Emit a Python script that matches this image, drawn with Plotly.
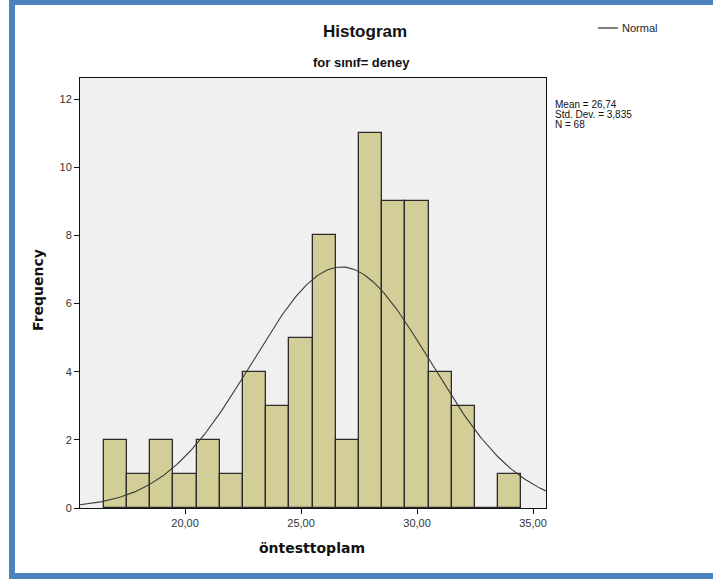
import numpy as np
import plotly.graph_objects as go

# ---- data ----
bin_centers = [17, 18, 19, 20, 21, 22, 23, 24, 25, 26, 27, 28, 29, 30, 31, 32, 33, 34]
counts = [2, 1, 2, 1, 2, 1, 4, 3, 5, 8, 2, 11, 9, 9, 4, 3, 0, 1]
bin_width = 1.0
mean_val = 26.74
sd_val = 3.835
n_val = 68
x_tickvals = [20, 25, 30, 35]
x_ticktext = ["20,00", "25,00", "30,00", "35,00"]
y_tickvals = [0, 2, 4, 6, 8, 10, 12]
stats_lines = ["Mean = 26,74", "Std. Dev. = 3,835", "N = 68"]

X_RANGE = [15.47, 35.56]
Y_RANGE = [0, 12.62]

# normal curve scaled to counts
xc = np.linspace(X_RANGE[0], X_RANGE[1], 300)
yc = n_val * bin_width / (sd_val * np.sqrt(2 * np.pi)) * np.exp(-0.5 * ((xc - mean_val) / sd_val) ** 2)

W, H = 715, 581
L, R, T, B = 80, 546, 78, 508  # plot area pixel box


def px(x):
    return (x - L) / (R - L)


def py(y):
    return (B - y) / (B - T)


fig = go.Figure()
fig.add_trace(go.Bar(
    x=bin_centers, y=counts, width=bin_width,
    marker=dict(color="#D3CE97", line=dict(color="#2b2b2b", width=1.3)),
    showlegend=False, hoverinfo="x+y",
))
fig.add_trace(go.Scatter(
    x=xc, y=yc, mode="lines", line=dict(color="#3a3a3a", width=1.1),
    showlegend=False, name="Normal",
))

tick_font = dict(family="Liberation Sans, Arial, sans-serif", size=11, color="#333333")
narrow = "Liberation Sans Narrow, Arial Narrow, Liberation Sans, Arial, sans-serif"

annotations = [
    dict(text="<b>Histogram</b>", x=px(365), y=py(32), xref="paper", yref="paper",
         showarrow=False, font=dict(family=narrow, size=17, color="#111"), xanchor="center", yanchor="middle"),
    dict(text="<b>for sınıf= deney</b>", x=px(361), y=py(63), xref="paper", yref="paper",
         showarrow=False, font=dict(family=narrow, size=13, color="#111"), xanchor="center", yanchor="middle"),
    dict(text="Normal", x=px(620), y=py(28), xref="paper", yref="paper",
         showarrow=False, font=dict(family=narrow, size=11, color="#222"), xanchor="left", yanchor="middle"),
    dict(text="<b>öntesttoplam</b>", x=px(312), y=py(548), xref="paper", yref="paper",
         showarrow=False, font=dict(family="DejaVu Sans, Verdana, sans-serif", size=14, color="#111"),
         xanchor="center", yanchor="middle"),
    dict(text="<b>Frequency</b>", x=px(38), y=py(290), xref="paper", yref="paper", textangle=-90,
         showarrow=False, font=dict(family="DejaVu Sans, Verdana, sans-serif", size=14, color="#111"),
         xanchor="center", yanchor="middle"),
]
for i, line in enumerate(stats_lines):
    annotations.append(dict(text=line, x=px(553), y=py(104 + i * 10.5), xref="paper", yref="paper",
                            showarrow=False, font=dict(family="Liberation Sans, Arial, sans-serif", size=10, color="#111"),
                            xanchor="left", yanchor="middle"))

blue = "#4F81BD"
shapes = [
    dict(type="line", xref="paper", yref="paper", x0=px(598), x1=px(618), y0=py(28), y1=py(28),
         line=dict(color="#3a3a3a", width=1.3)),
    dict(type="rect", xref="paper", yref="paper", x0=px(9), x1=px(15), y0=py(0), y1=py(579),
         fillcolor=blue, line=dict(width=0), layer="above"),
    dict(type="rect", xref="paper", yref="paper", x0=px(9), x1=px(713), y0=py(0), y1=py(5),
         fillcolor=blue, line=dict(width=0), layer="above"),
    dict(type="rect", xref="paper", yref="paper", x0=px(9), x1=px(713), y0=py(573), y1=py(579),
         fillcolor=blue, line=dict(width=0), layer="above"),
]

fig.update_layout(
    width=W, height=H,
    margin=dict(l=L, r=W - R, t=T, b=H - B, pad=0),
    paper_bgcolor="white", plot_bgcolor="#F0F0F0",
    bargap=0,
    annotations=annotations, shapes=shapes,
    xaxis=dict(range=X_RANGE, tickvals=x_tickvals, ticktext=x_ticktext, ticks="outside", ticklen=5,
               tickcolor="#111", showline=True, linecolor="#111", linewidth=1, mirror=True,
               showgrid=False, zeroline=False, tickfont=tick_font),
    yaxis=dict(range=Y_RANGE, tickvals=y_tickvals, ticks="outside", ticklen=5,
               tickcolor="#111", showline=True, linecolor="#111", linewidth=1, mirror=True,
               showgrid=False, zeroline=False, tickfont=tick_font),
    showlegend=False,
)

fig.write_html("out.html", config={"displayModeBar": False},
               post_script="document.body.style.margin='0';document.body.style.overflow='hidden';")
